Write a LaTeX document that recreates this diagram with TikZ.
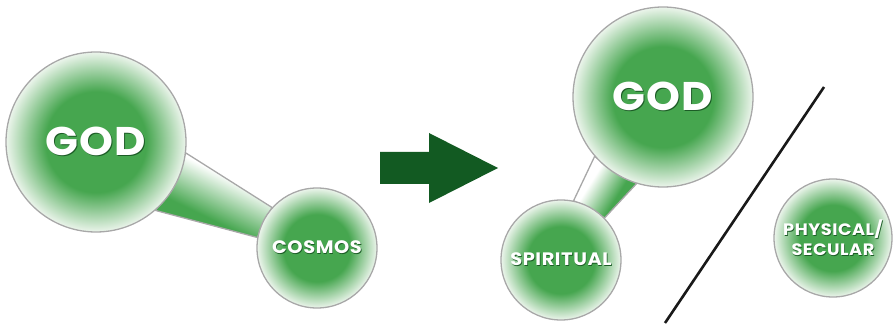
\documentclass[tikz,border=0pt]{standalone}
\usepackage{fontspec}
\newfontfamily\bubblefont{Poppins}[FakeStretch=1.08,LetterSpace=3]
\usetikzlibrary{calc,backgrounds}
\definecolor{bubblegreen}{RGB}{70,166,79}
\definecolor{bubblerim}{RGB}{236,245,236}
\definecolor{edgegray}{RGB}{168,168,168}
\definecolor{arrowgreen}{RGB}{18,90,34}
\definecolor{glowgreen}{RGB}{28,92,38}
\pgfdeclareradialshading{bubbleshade}{\pgfpoint{0bp}{0bp}}{color(0bp)=(bubblegreen); color(14bp)=(bubblegreen); color(25bp)=(bubblerim); color(50bp)=(bubblerim)}
\pgfdeclareverticalshading{linkshade}{100bp}{color(0bp)=(bubblegreen); color(38bp)=(bubblegreen); color(62bp)=(white); color(100bp)=(white)}
% white lettering with a soft dark edge
\newcommand{\glow}[1]{\makebox[0pt][l]{\kern0.7pt\raisebox{-0.7pt}{\color{glowgreen}#1}}#1}

\begin{document}
\begin{tikzpicture}[x=1pt,y=1pt,
    bubble/.style={circle,draw=edgegray,line width=1.3pt,shading=bubbleshade,inner sep=0pt,
      text=white,align=center},
    bigbubble/.style={bubble,minimum size=180pt,font=\bubblefont\bfseries\fontsize{40}{40}\selectfont},
    smallbubble/.style={bubble,minimum size=120pt,font=\bubblefont\bfseries\fontsize{18}{20}\selectfont},
    link/.style={draw=edgegray,line width=1.3pt,shading=linkshade}]
  \useasboundingbox (0,0) rectangle (894,327);

  % before: one world
  \node[bigbubble] (god) at (96,185) {\glow{GOD}};
  \node[smallbubble] (cosmos) at (317,79) {\glow{COSMOS}};

  % after: split world
  \node[bigbubble] (godsplit) at (663,230) {\glow{GOD}};
  \node[smallbubble] (spiritual) at (561,67) {\glow{SPIRITUAL}};
  \node[smallbubble,minimum size=118pt,font=\bubblefont\bfseries\fontsize{16.5}{20}\selectfont]
    (physical) at (833,89) {\glow{PHYSICAL/}\\\glow{SECULAR}};

  % connectors behind the bubbles
  \begin{scope}[on background layer]
    \path[link,shading angle=-26] (god.-7) -- (cosmos.138) -- (cosmos.170) -- (god.-49) -- cycle;
    \path[link,shading angle=58] (spiritual.78) -- (godsplit.221) -- (godsplit.253) -- (spiritual.44) -- cycle;
  \end{scope}

  % big arrow
  \fill[arrowgreen] (380,143) -- (429,143) -- (429,124) -- (498,159) -- (429,194) -- (429,175) -- (380,175) -- cycle;

  % divider
  \coordinate (slashtop) at (824,240);
  \coordinate (slashbottom) at (665,4);
  \draw[line width=2.6pt,black!90] (slashtop) -- (slashbottom);
\end{tikzpicture}
\end{document}
